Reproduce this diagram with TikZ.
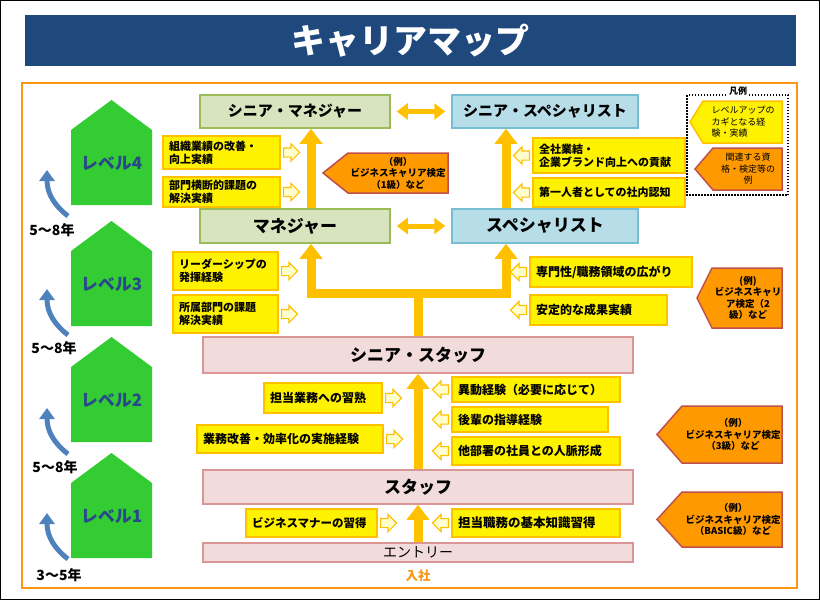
\documentclass[tikz,border=0pt]{standalone}
\usepackage{fontspec}
\setmainfont{Noto Sans CJK JP}
\usetikzlibrary{arrows.meta,positioning,shapes.arrows}
\definecolor{titleblue}{RGB}{31,73,125}
\definecolor{frameorange}{RGB}{250,150,20}
\definecolor{amber}{RGB}{255,192,0}
\definecolor{hintfill}{RGB}{255,255,204}
\definecolor{certorange}{RGB}{255,153,0}
\definecolor{certred}{RGB}{192,80,77}
\definecolor{housegreen}{RGB}{51,204,51}
\definecolor{levelblue}{RGB}{41,72,140}
\definecolor{growblue}{RGB}{79,129,189}
\definecolor{mgrfill}{RGB}{215,228,189}
\definecolor{mgrline}{RGB}{155,187,89}
\definecolor{spcfill}{RGB}{183,222,232}
\definecolor{spcline}{RGB}{120,190,210}
\definecolor{stafffill}{RGB}{242,220,219}
\definecolor{staffline}{RGB}{217,150,148}
\tikzset{
  rolebox/.style={draw, line width=1.5pt, minimum height=33pt, inner sep=0pt,
    font=\bfseries\fontsize{15}{18}\selectfont},
  mgrbox/.style={rolebox, draw=mgrline, fill=mgrfill, minimum width=190pt},
  spcbox/.style={rolebox, draw=spcline, fill=spcfill, minimum width=186pt},
  staffbox/.style={rolebox, draw=staffline, fill=stafffill, minimum width=430pt,
    font=\bfseries\fontsize{17}{20}\selectfont},
  bigrole/.style={font=\bfseries\fontsize{17}{20}\selectfont, minimum height=34pt},
  ybox/.style={draw=amber, fill=yellow, line width=2pt, align=left,
    inner xsep=6pt, inner ysep=2pt, text width=#1,
    font=\bfseries\fontsize{11}{13}\selectfont},
  hintR/.style={single arrow, draw=amber, fill=hintfill, line width=1.2pt,
    minimum height=16pt, inner xsep=0pt, inner ysep=4pt,
    single arrow head extend=4pt, anchor=tail},
  hintL/.style={hintR, shape border rotate=180},
  climb/.style={line width=9pt, amber, -{Triangle[width=22pt,length=15pt]}},
  crossmove/.style={line width=5pt, amber,
    {Triangle[width=16pt,length=11pt]}-{Triangle[width=16pt,length=11pt]}},
  cert/.style={draw=certred, fill=certorange, line width=1.5pt},
  certtext/.style={align=center, font=\bfseries\fontsize{9.5}{11.5}\selectfont},
  climbcurve/.style={line width=5pt, growblue, -{Triangle[width=15pt,length=11pt]}},
  years/.style={font=\bfseries\fontsize{14}{16}\selectfont},
  house/.style={fill=housegreen},
  levellabel/.style={text=levelblue, font=\bfseries\fontsize{17}{20}\selectfont}
}
\begin{document}
\begin{tikzpicture}[x=1pt,y=-1pt]
  \useasboundingbox (0,0) rectangle (820,600);
  \draw[black, line width=1pt] (0.5,0.5) rectangle (819.5,599.5);
  \node[fill=titleblue, minimum width=771pt, minimum height=51pt, text=white,
    font=\bfseries\fontsize{34}{40}\selectfont] (title) at (410.5,40.5) {キャリアマップ};
  \draw[frameorange, line width=2pt] (22,83) rectangle (797,588);

  \foreach \n/\y in {4/100,3/221,2/337,1/453} {
    \fill[house] (71,\y+30) -- (111.5,\y) -- (152,\y+30) -- (152,\y+105) -- (71,\y+105) -- cycle;
    \node[levellabel] (lv\n) at (111.5,\y+63) {レベル\n};
  }
  \foreach \y in {170,289,408,513}
    \draw[climbcurve] (68,\y+46) .. controls (55,\y+36) and (47,\y+24) .. (47,\y);
  \node[years] (y4) at (52,230) {5〜8年};
  \node[years] (y3) at (54,348) {5〜8年};
  \node[years] (y2) at (55,467) {5〜8年};
  \node[years] (y1) at (59,575) {3〜5年};

  \node[mgrbox] (smgr) at (295,111.5) {シニア・マネジャー};
  \node[spcbox] (sspc) at (545,111.5) {シニア・スペシャリスト};
  \node[mgrbox, bigrole] (mgr) at (295,226) {マネジャー};
  \node[spcbox, bigrole] (spc) at (545,226) {スペシャリスト};
  \node[staffbox, minimum height=36pt] (sstaff) at (418,355) {シニア・スタッフ};
  \node[staffbox, minimum height=34pt] (staff) at (418,487) {スタッフ};
  \node[staffbox, minimum height=19pt, font=\fontsize{14}{16}\selectfont] (entry) at (418,552.5) {エントリー};
  \node[text=frameorange, font=\bfseries\fontsize{12.5}{14}\selectfont] (join) at (418,576) {入社};

  \draw[crossmove] ([xshift=6pt]smgr.east) -- ([xshift=-6pt]sspc.west);
  \draw[crossmove] ([xshift=6pt]mgr.east) -- ([xshift=-6pt]spc.west);
  \coordinate (fork) at (418,293);
  \draw[line width=9pt, amber] (sstaff.north) -- (fork);
  \draw[climb] (fork) -| ([xshift=16pt]mgr.south);
  \draw[climb] (fork) -| ([xshift=-39pt]spc.south);
  \draw[climb] ([xshift=16pt]mgr.north) -- ([xshift=16pt]smgr.south);
  \draw[climb] ([xshift=-39pt]spc.north) -- ([xshift=-39pt]sspc.south);
  \draw[climb] (staff.north) -- (sstaff.south);
  \draw[climb] (entry.north) -- (staff.south);

  \node[ybox=105pt, minimum height=33pt] (l4a) at (221.5,152.5) {組織業績の改善・\\向上実績};
  \node[ybox=105pt, minimum height=30pt] (l4b) at (221.5,192) {部門横断的課題の\\解決実績};
  \node[ybox=140pt, minimum height=35pt] (r4a) at (609,155.5) {全社業結・\\企業ブランド向上への貢献};
  \node[ybox=140pt, minimum height=29pt] (r4b) at (609,192.5) {第一人者としての社内認知};
  \node[ybox=93pt, minimum height=38pt] (l3a) at (225.5,271) {リーダーシップの\\発揮経験};
  \node[ybox=93pt, minimum height=38pt] (l3b) at (225.5,314) {所属部門の課題\\解決実績};
  \node[ybox=150pt, minimum height=30pt, font=\bfseries\fontsize{12}{14}\selectfont] (r3a) at (611,272) {専門性/職務領域の広がり};
  \node[ybox=125pt, minimum height=30pt, font=\bfseries\fontsize{12}{14}\selectfont] (r3b) at (598.5,310) {安定的な成果実績};
  \node[ybox=106pt, minimum height=30pt, font=\bfseries\fontsize{12}{14}\selectfont] (l2a) at (323,398) {担当業務への習熟};
  \node[ybox=174pt, minimum height=28pt, font=\bfseries\fontsize{12}{14}\selectfont] (l2b) at (290,439) {業務改善・効率化の実施経験};
  \node[ybox=156pt, minimum height=25pt, font=\bfseries\fontsize{12}{14}\selectfont] (r2a) at (536,389.5) {異動経験（必要に応じて）};
  \node[ybox=144pt, minimum height=25pt, font=\bfseries\fontsize{12}{14}\selectfont] (r2b) at (530,419.5) {後輩の指導経験};
  \node[ybox=156pt, minimum height=28pt, font=\bfseries\fontsize{12}{14}\selectfont] (r2c) at (536,451) {他部署の社員との人脈形成};
  \node[ybox=119pt, minimum height=28pt, font=\bfseries\fontsize{11.5}{13}\selectfont] (l1a) at (311.5,523) {ビジネスマナーの習得};
  \node[ybox=156pt, minimum height=28pt, font=\bfseries\fontsize{12.5}{14}\selectfont] (r1a) at (536,523) {担当職務の基本知識習得};

  \foreach \b in {l4a,l4b,l3a,l3b,l2a,l2b,l1a}
    \node[hintR] (h\b) at ([xshift=2pt]\b.east) {};
  \foreach \b in {r4a,r4b,r3a,r3b,r2a,r2b,r2c,r1a}
    \node[hintL] (h\b) at ([xshift=-2pt]\b.west) {};

  \draw[cert] (348,153) -- (448,153) -- (448,193) -- (348,193) -- (323,173) -- cycle;
  \node[certtext] (c4) at (398,173) {（例）\\ビジネスキャリア検定\\（1級）など};
  \draw[cert] (712,268) -- (782,268) -- (782,328) -- (712,328) -- (697,298) -- cycle;
  \node[certtext] (c3) at (748,298) {(例)\\ビジネスキャリ\\ア検定（2\\級）など};
  \draw[cert] (682,406) -- (782,406) -- (782,463) -- (682,463) -- (657,434.5) -- cycle;
  \node[certtext] (c2) at (733,434.5) {（例）\\ビジネスキャリア検定\\（3級）など};
  \draw[cert] (682,492) -- (782,492) -- (782,547) -- (682,547) -- (657,519.5) -- cycle;
  \node[certtext] (c1) at (733,519.5) {（例）\\ビジネスキャリア検定\\（BASIC級）など};

  \draw[line width=1.5pt, dash pattern=on 1.5pt off 1.5pt] (687,95) rectangle (788,195);
  \node[fill=white, inner sep=1pt, font=\bfseries\fontsize{9}{10}\selectfont] (legend) at (738,91) {凡例};
  \draw[draw=amber, fill=yellow, line width=1.5pt] (703,101) -- (782,101) -- (782,143) -- (703,143) -- (690,122) -- cycle;
  \node[align=left, anchor=west, font=\fontsize{9}{11.5}\selectfont] (keyexp) at (708,122) {レベルアップの\\カギとなる経\\験・実績};
  \draw[cert] (713,148) -- (782,148) -- (782,190) -- (713,190) -- (695,169) -- cycle;
  \node[align=center, font=\fontsize{9}{11.5}\selectfont] (keycert) at (748,169) {関連する資\\格・検定等の\\例};
\end{tikzpicture}
\end{document}
